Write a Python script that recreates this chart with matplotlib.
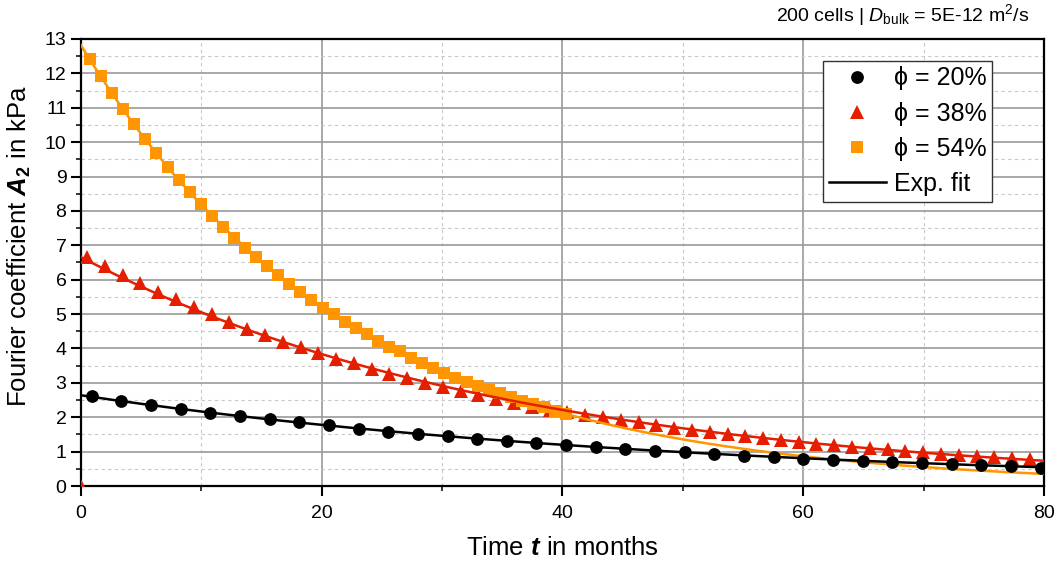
import numpy as np
import matplotlib
matplotlib.use("Agg")
import matplotlib.pyplot as plt
from matplotlib.lines import Line2D
from matplotlib.ticker import MultipleLocator

plt.rcParams["font.family"] = ["Liberation Sans", "DejaVu Sans"]
plt.rcParams["mathtext.fontset"] = "custom"
plt.rcParams["mathtext.rm"] = "Liberation Sans"
plt.rcParams["mathtext.it"] = "Liberation Sans:italic"
plt.rcParams["mathtext.bf"] = "Liberation Sans:bold"
plt.rcParams["mathtext.bfit"] = "Liberation Sans:bold:italic"

# phi = 20 %
t_20 = [0.89, 3.35, 5.82, 8.28, 10.74, 13.21, 15.67, 18.13, 20.59, 23.06, 25.52,
        27.98, 30.45, 32.91, 35.37, 37.84, 40.30, 42.76, 45.22, 47.69, 50.15, 52.61,
        55.08, 57.54, 60.00, 62.47, 64.93, 67.39, 69.85, 72.32, 74.78, 77.24, 79.71]
a_20 = [2.62, 2.48, 2.36, 2.23, 2.13, 2.04, 1.96, 1.86, 1.76, 1.66, 1.58,
        1.51, 1.45, 1.37, 1.30, 1.24, 1.19, 1.13, 1.07, 1.03, 0.99, 0.94,
        0.88, 0.84, 0.80, 0.77, 0.74, 0.71, 0.68, 0.65, 0.61, 0.57, 0.53]

# phi = 38 %
t_38 = [0.0, 0.50, 1.98, 3.46, 4.93, 6.41, 7.89, 9.37, 10.85, 12.32, 13.80, 15.28,
        16.76, 18.24, 19.71, 21.19, 22.67, 24.15, 25.63, 27.10, 28.58, 30.06,
        31.54, 33.02, 34.49, 35.97, 37.45, 38.93, 40.41, 41.88, 43.36, 44.84,
        46.32, 47.80, 49.27, 50.75, 52.23, 53.71, 55.19, 56.66, 58.14, 59.62,
        61.10, 62.58, 64.05, 65.53, 67.01, 68.49, 69.97, 71.44, 72.92, 74.40,
        75.88, 77.36, 78.83]
a_38 = [0.0, 6.67, 6.40, 6.14, 5.90, 5.65, 5.43, 5.22, 4.99, 4.78, 4.58, 4.38,
        4.20, 4.04, 3.86, 3.70, 3.57, 3.41, 3.27, 3.14, 3.00, 2.89,
        2.76, 2.65, 2.52, 2.41, 2.31, 2.22, 2.14, 2.07, 2.00, 1.92,
        1.85, 1.77, 1.70, 1.63, 1.56, 1.51, 1.45, 1.39, 1.33, 1.28,
        1.23, 1.19, 1.14, 1.10, 1.07, 1.02, 0.98, 0.94, 0.90, 0.87,
        0.83, 0.81, 0.78]

# phi = 54 %
t_54 = [0.75, 1.67, 2.59, 3.51, 4.43, 5.35, 6.27, 7.19, 8.11, 9.03, 9.95,
        10.87, 11.79, 12.71, 13.63, 14.55, 15.47, 16.39, 17.31, 18.23, 19.15,
        20.07, 20.99, 21.91, 22.83, 23.75, 24.67, 25.59, 26.51, 27.43, 28.35,
        29.27, 30.19, 31.11, 32.03, 32.95, 33.87, 34.79, 35.71, 36.63, 37.55,
        38.47, 39.39, 40.31]
a_54 = [12.42, 11.93, 11.44, 10.97, 10.53, 10.10, 9.69, 9.28, 8.91, 8.55, 8.20,
        7.86, 7.53, 7.22, 6.93, 6.65, 6.39, 6.14, 5.88, 5.63, 5.41,
        5.19, 5.00, 4.77, 4.60, 4.41, 4.23, 4.05, 3.92, 3.73, 3.58,
        3.43, 3.30, 3.15, 3.02, 2.91, 2.79, 2.70, 2.58, 2.48, 2.39,
        2.29, 2.19, 2.09]

labels = ["\u03d5 = 20%", "\u03d5 = 38%", "\u03d5 = 54%", "Exp. fit"]
black, red, orange = "#000000", "#E61E00", "#FF9500"
ms_circ, ms_tri, ms_sq = 9.2, 9.6, 8.6


def exp_fit(t, a):
    "fit a*exp(-t/tau) through the points with a > 0, in log space"
    t = np.asarray(t)
    a = np.asarray(a)
    keep = a > 0
    slope, icpt = np.polyfit(t[keep], np.log(a[keep]), 1)
    tt = np.linspace(0, 80, 400)
    return tt, np.exp(icpt + slope * tt)


fig = plt.figure(figsize=(10.64, 5.65), dpi=100)
ax = fig.add_axes([0.0761, 0.1398, 0.9051, 0.7912])

ax.plot(t_38, a_38, "^", color=red, ms=ms_tri, mew=0, zorder=3)
ax.plot(t_54, a_54, "s", color=orange, ms=ms_sq, mew=0, zorder=3)
tt, ff = exp_fit(t_54, a_54)
ax.plot(tt, ff, color=orange, lw=1.8, zorder=3)
tt, ff = exp_fit(t_38, a_38)
ax.plot(tt, ff, color=red, lw=1.8, zorder=3)
ax.plot(t_20, a_20, "o", color=black, ms=ms_circ, mew=0, zorder=3)
tt, ff = exp_fit(t_20, a_20)
ax.plot(tt, ff, color=black, lw=1.8, zorder=3)

ax.set_xlim(0, 80)
ax.set_ylim(0, 13)
ax.xaxis.set_major_locator(MultipleLocator(20))
ax.xaxis.set_minor_locator(MultipleLocator(10))
ax.yaxis.set_major_locator(MultipleLocator(1))
ax.yaxis.set_minor_locator(MultipleLocator(0.5))
ax.grid(which="major", color="#9a9a9a", lw=1.2, ls="-", zorder=0)
ax.grid(which="minor", color="#c8c8c8", lw=0.8, ls=(0, (3, 3)), zorder=0)
ax.set_axisbelow(True)

for s in ax.spines.values():
    s.set_linewidth(1.6)
    s.set_color("black")
ax.tick_params(which="major", direction="out", length=7, width=1.5, labelsize=14, pad=3.5)
ax.tick_params(which="minor", direction="out", length=3.5, width=1.1)
ax.tick_params(axis="x", pad=7)

ax.set_xlabel(r"Time $\mathbfit{t}$ in months", fontsize=18.5, labelpad=10)
ax.set_ylabel(r"Fourier coefficient $\mathbfit{A}_{\mathbf{2}}$ in kPa", fontsize=18.5)
ax.yaxis.set_label_coords(-0.05, 0.537)

fig.text(0.967, 0.962, r"200 cells | $\mathit{D}_{\mathrm{bulk}}$ = 5E-12 m$^{2}$/s",
         ha="right", va="baseline", fontsize=14)

handles = [
    Line2D([], [], ls="none", marker="o", color=black, ms=ms_circ, mew=0),
    Line2D([], [], ls="none", marker="^", color=red, ms=ms_tri, mew=0),
    Line2D([], [], ls="none", marker="s", color=orange, ms=ms_sq, mew=0),
    Line2D([], [], color=black, lw=1.8),
]
leg = ax.legend(handles, labels, loc="upper right", bbox_to_anchor=(0.946, 0.951),
                fontsize=18, frameon=True, fancybox=False, edgecolor="#333333",
                framealpha=1, handlelength=2.3, handletextpad=0.3, labelspacing=0.45,
                borderpad=0.22, borderaxespad=0)
leg.get_frame().set_linewidth(1.0)

fig.savefig("out.png", dpi=100)
